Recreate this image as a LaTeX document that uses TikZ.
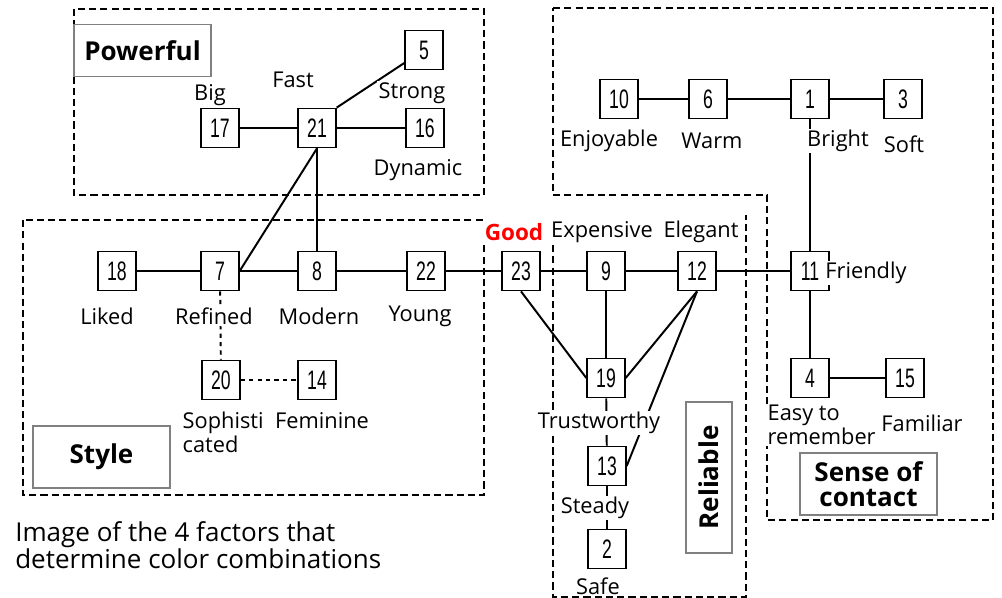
\documentclass[tikz,border=0pt]{standalone}
\usepackage{fontspec}
\setmainfont{Open Sans}
\newfontfamily\numfont[FakeStretch=0.66]{Liberation Sans}
\begin{document}
\begin{tikzpicture}[x=0.025cm,y=-0.025cm,
  num/.style={draw,line width=1pt,minimum width=27pt,minimum height=28pt,inner sep=0pt,
    font=\numfont\fontsize{19}{19}\selectfont},
  lbl/.style={fill=white,inner sep=1pt,font=\fontsize{15.5}{15}\selectfont},
  factor/.style={draw=gray,line width=1.4pt,fill=white,align=center,inner sep=0pt,
    font=\bfseries\fontsize{18.5}{18}\selectfont},
  region/.style={dash pattern=on 5pt off 3pt,line width=0.9pt},
  link/.style={line width=1.4pt}]
\useasboundingbox (0,0) rectangle (1002,598);

% dashed regions of the four factors
\draw [region] (74,9) rectangle (484,195) ;
\draw [region] (23,220) rectangle (484,495) ;
\draw [region] (553,8) -- (993,8) -- (993,520) -- (767,520) -- (767,195) -- (553,195) -- cycle ;
\draw [region] (553,245) -- (553,597) -- (746,597) -- (746,215) ;

% numbered items
\node [num] (n5)  at (424,50)  {5} ;
\node [num] (n17) at (220,128) {17} ;
\node [num] (n21) at (317,128) {21} ;
\node [num] (n16) at (425,128) {16} ;
\node [num] (n10) at (619,99)  {10} ;
\node [num] (n6)  at (708,99)  {6} ;
\node [num] (n1)  at (810,99)  {1} ;
\node [num] (n3)  at (903,99)  {3} ;
\node [num] (n18) at (117,271) {18} ;
\node [num] (n7)  at (220,271) {7} ;
\node [num] (n8)  at (317,271) {8} ;
\node [num] (n22) at (426,271) {22} ;
\node [num] (n23) at (521,271) {23} ;
\node [num] (n9)  at (606,271) {9} ;
\node [num] (n12) at (697,271) {12} ;
\node [num] (n11) at (810,271) {11} ;
\node [num] (n20) at (221,380) {20} ;
\node [num] (n14) at (317,380) {14} ;
\node [num] (n19) at (606,378) {19} ;
\node [num] (n4)  at (810,378) {4} ;
\node [num] (n15) at (905,378) {15} ;
\node [num] (n13) at (607,466) {13} ;
\node [num] (n2)  at (607,549) {2} ;

% links
\draw [link] (n17) -- (n21) ;
\draw [link] (n21) -- (n16) ;
\draw [link] (n21.north east) -- (n5) ;
\draw [link] (n21.south) -- (n7.east) ;
\draw [line width=0.9pt] (n21) -- (n8) ;
\draw [link] (n18) -- (n7) ;
\draw [link] (n7) -- (n8) ;
\draw [link] (n8) -- (n22) ;
\draw [link] (n22) -- (n23) ;
\draw [link] (n23) -- (n9) ;
\draw [link] (n9) -- (n12) ;
\draw [link] (n12) -- (n11) ;
\draw [link] (n10) -- (n6) ;
\draw [link] (n6) -- (n1) ;
\draw [link] (n1) -- (n3) ;
\draw [link] (n1) -- (n11) ;
\draw [link] (n11) -- (n4) ;
\draw [link] (n4) -- (n15) ;
\draw [link] (n23.south) -- (n19.west) ;
\draw [link] (n9) -- (n19) ;
\draw [link] (n12.south) -- (n19.east) ;
\draw [link] (n12.south) -- (n13.east) ;
\draw [link] (n19) -- (n13) ;
\draw [link] (n13) -- (n2) ;
\draw [link,dashed] (n7) -- (n20) ;
\draw [link,dashed] (n20) -- (n14) ;

% labels
\node [lbl] (big)     at (210,95)  {Big} ;
\node [lbl] (fast)    at (293,80)  {Fast} ;
\node [lbl] (strong)  at (412,93)  {Strong} ;
\node [lbl] (dynamic) at (418,170) {Dynamic} ;
\node [lbl] (enjoy)   at (609,141) {Enjoyable} ;
\node [lbl] (warm)    at (712,141) {Warm} ;
\node [lbl] (bright)  at (838,141) {Bright} ;
\node [lbl] (soft)    at (904,144) {Soft} ;
\node [lbl] (liked)   at (107,316) {Liked} ;
\node [lbl] (refined) at (214,316) {Refined} ;
\node [lbl] (modern)  at (319,316) {Modern} ;
\node [lbl] (young)   at (420,316) {Young} ;
\node [lbl,text=red,font=\bfseries\fontsize{16}{15}\selectfont] (good) at (514,232) {Good} ;
\node [lbl] (expens)  at (602,232) {Expensive} ;
\node [lbl] (elegant) at (701,232) {Elegant} ;
\node [lbl] (friend)  at (866,273) {Friendly} ;
\node [lbl,align=left,anchor=west,font=\fontsize{15.5}{17}\selectfont] (sophis) at (181,432) {Sophisti\\cated} ;
\node [lbl] (femin)   at (322,421) {Feminine} ;
\node [lbl] (trust)   at (599,423) {Trustworthy} ;
\node [lbl] (steady)  at (595,508) {Steady} ;
\node [lbl] (safe)    at (598,586) {Safe} ;
\node [lbl,align=left,anchor=west,font=\fontsize{15.5}{17}\selectfont] (easy) at (766,425) {Easy to\\remember} ;
\node [lbl] (famil)   at (922,423) {Familiar} ;

% factor names
\node [factor,minimum width=97pt,minimum height=37pt] (powerful) at (142.5,50.5) {Powerful} ;
\node [factor,minimum width=97pt,minimum height=44pt] (style) at (101.5,457) {Style} ;
\node [factor,minimum width=97pt,minimum height=44pt] (sense) at (868.5,484) {Sense of\\contact} ;
\node [factor,rotate=90,minimum width=107pt,minimum height=32.5pt] (reliable) at (709,477.5) {Reliable} ;

% caption
\node [anchor=west,align=left,inner sep=0pt,font=\fontsize{18.5}{17}\selectfont] (caption) at (15,545)
  {Image of the 4 factors that\\determine color combinations} ;
\end{tikzpicture}
\end{document}
